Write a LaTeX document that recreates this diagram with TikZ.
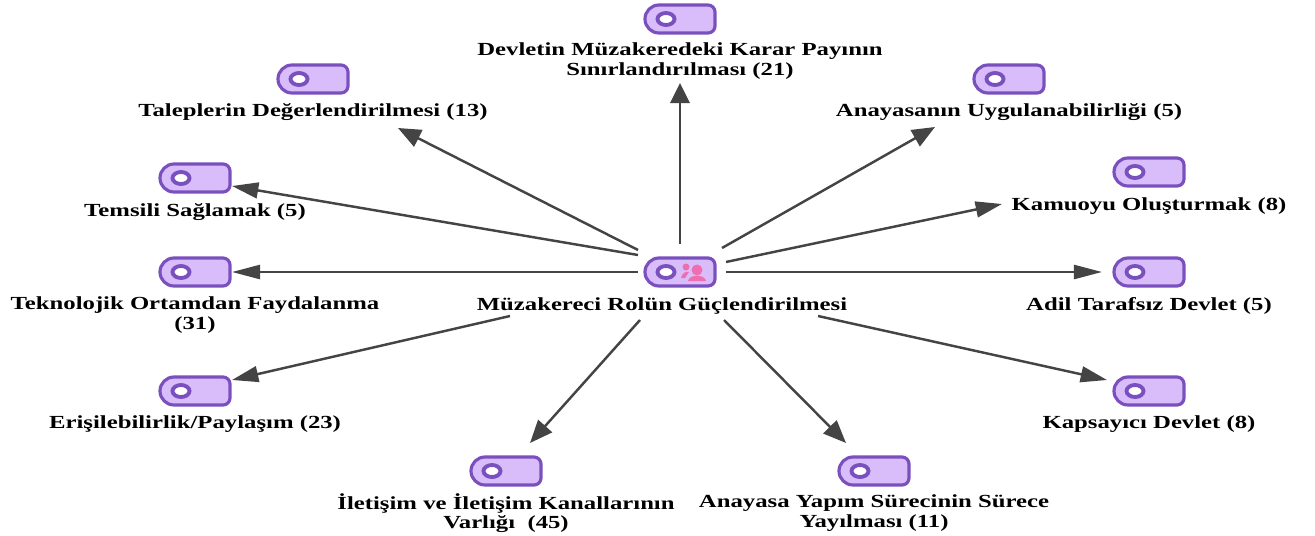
\documentclass[tikz,border=0pt]{standalone}
\usepackage{fontspec}
\setmainfont[FakeStretch=1.34]{Liberation Serif}
\usepackage{tikz}
\usetikzlibrary{
  arrows.meta,
}
\definecolor{tagfill}{HTML}{D9BDFB}
\definecolor{tagedge}{HTML}{7A50BE}
\definecolor{linkgray}{HTML}{444444}
\definecolor{personpink}{HTML}{EE6FB0}

\begin{document}
\begin{tikzpicture}[
  x=0.02cm,
  y=-0.02cm,
  line width=2pt,
  font=\fontsize{10.5}{11}\selectfont\bfseries,
  caption/.style={
     align=center,
     inner sep=0pt,
     text=black,
  },
  link/.style={
     draw=linkgray,
     line width=1.4pt,
  },
  uplink/.style={link,-{Triangle[length=11.5pt,width=11pt]}},
  steeplink/.style={link,-{Triangle[length=13pt,width=10.5pt]}},
  slantlink/.style={link,-{Triangle[length=15pt,width=9pt]}},
  flatlink/.style={link,-{Triangle[length=16pt,width=8pt]}},
  tagicon/.pic={
     \draw[draw=tagedge,fill=tagfill,line width=1.8pt]
        (-35,0) arc (180:270:14) -- (28,-14) arc (270:360:7) -- (35,7)
        arc (0:90:7) -- (-21,14) arc (90:180:14) -- cycle;
     \draw[draw=tagedge,fill=white,line width=2.2pt] (-14,0) ellipse (8.5 and 6);
  },
]
   \useasboundingbox (0,0) rectangle (1315,535);

   \coordinate (hubDevlet) at (680,244);
   \coordinate (devletEnd) at (680,83);
   \draw[uplink] (hubDevlet) -- (devletEnd);
   \coordinate (hubTalep) at (638,250);
   \coordinate (talepEnd) at (398,128);
   \draw[steeplink] (hubTalep) -- (talepEnd);
   \coordinate (hubTemsil) at (638,255);
   \coordinate (temsilEnd) at (232,186);
   \draw[slantlink] (hubTemsil) -- (temsilEnd);
   \coordinate (hubTekno) at (638,272);
   \coordinate (teknoEnd) at (232,272);
   \draw[flatlink] (hubTekno) -- (teknoEnd);
   \coordinate (hubErisim) at (510,316);
   \coordinate (erisimEnd) at (232,380);
   \draw[slantlink] (hubErisim) -- (erisimEnd);
   \coordinate (hubIletisim) at (640,320);
   \coordinate (iletisimEnd) at (530,443);
   \draw[steeplink] (hubIletisim) -- (iletisimEnd);
   \coordinate (hubYapim) at (724,320);
   \coordinate (yapimEnd) at (846,443);
   \draw[steeplink] (hubYapim) -- (yapimEnd);
   \coordinate (hubKapsam) at (818,316);
   \coordinate (kapsamEnd) at (1107,380);
   \draw[slantlink] (hubKapsam) -- (kapsamEnd);
   \coordinate (hubAdil) at (726,272);
   \coordinate (adilEnd) at (1102,272);
   \draw[flatlink] (hubAdil) -- (adilEnd);
   \coordinate (hubKamu) at (726,262);
   \coordinate (kamuEnd) at (1002,204);
   \draw[slantlink] (hubKamu) -- (kamuEnd);
   \coordinate (hubAnayasa) at (722,248);
   \coordinate (anayasaEnd) at (935,127);
   \draw[steeplink] (hubAnayasa) -- (anayasaEnd);

   % centre icon carries the two figures
   \pic at (680,272) {tagicon};
   \fill[personpink] (697,270) circle (5.5);
   \fill[personpink] (688,281) .. controls (689,274) and (705,274) .. (706,281) -- cycle;
   \fill[personpink] (686,267) circle (3.5);
   \fill[personpink] (681,278) .. controls (682,273) and (686,271) .. (689,272) -- (685,278) -- cycle;

   \pic at (680,19) {tagicon};
   \pic at (313,79) {tagicon};
   \pic at (195,178) {tagicon};
   \pic at (195,272) {tagicon};
   \pic at (195,391) {tagicon};
   \pic at (506,471) {tagicon};
   \pic at (874,471) {tagicon};
   \pic at (1149,391) {tagicon};
   \pic at (1149,272) {tagicon};
   \pic at (1149,172) {tagicon};
   \pic at (1009,79) {tagicon};

   \node[caption] (hubText) at (662,306) {Müzakereci Rolün Güçlendirilmesi};
   \node[caption] (devletText) at (680,61) {Devletin Müzakeredeki Karar Payının\\Sınırlandırılması (21)};
   \node[caption] (talepText) at (313,112) {Taleplerin Değerlendirilmesi (13)};
   \node[caption] (temsilText) at (195,212) {Temsili Sağlamak (5)};
   \node[caption] (teknoText) at (195,315) {Teknolojik Ortamdan Faydalanma\\(31)};
   \node[caption] (erisimText) at (195,424) {Erişilebilirlik/Paylaşım (23)};
   \node[caption] (iletisimText) at (506,513) {İletişim ve İletişim Kanallarının\\Varlığı~~(45)};
   \node[caption] (yapimText) at (874,513) {Anayasa Yapım Sürecinin Sürece\\Yayılması (11)};
   \node[caption] (kapsamText) at (1149,424) {Kapsayıcı Devlet (8)};
   \node[caption] (adilText) at (1149,306) {Adil Tarafsız Devlet (5)};
   \node[caption] (kamuText) at (1149,206) {Kamuoyu Oluşturmak (8)};
   \node[caption] (anayasaText) at (1009,112) {Anayasanın Uygulanabilirliği (5)};
\end{tikzpicture}
\end{document}
